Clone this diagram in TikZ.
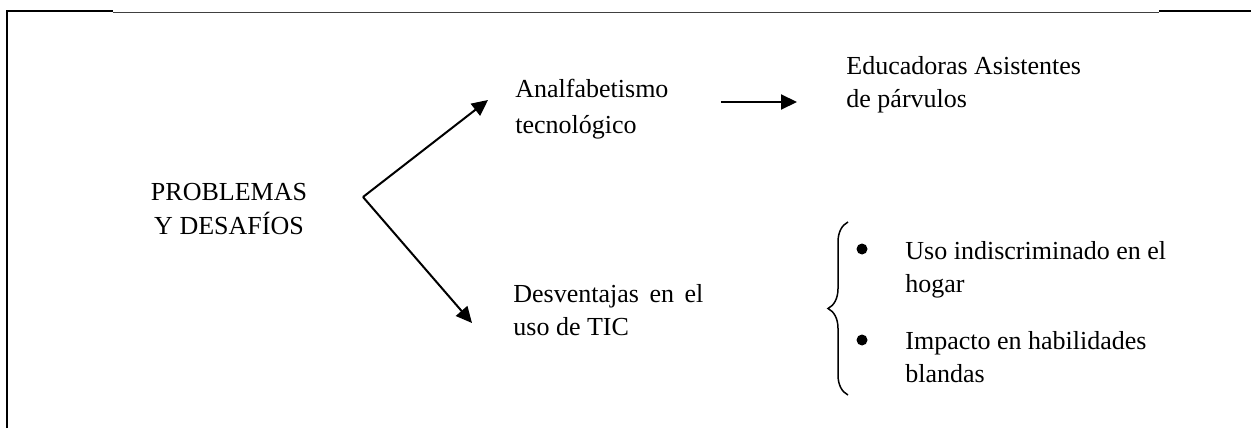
\documentclass[tikz,border=0pt]{standalone}
\usepackage{fontspec}
\setmainfont{Liberation Serif}
\usetikzlibrary{arrows.meta}
\usetikzlibrary{decorations.pathreplacing}
\usetikzlibrary{positioning}

\tikzset{
    txt/.style={inner sep=0pt,anchor=north west,align=left,font=\fontsize{13}{16.5}\selectfont},
    arr/.style={line width=1pt,-{Triangle[length=8pt,width=7.5pt]}},
    bul/.style={circle,fill=black,inner sep=0pt,minimum size=5.5pt}
}

\begin{document}
\begin{tikzpicture}[x=0.5pt,y=-0.5pt,every node/.style={black}]
    \useasboundingbox (0,0) rectangle (1251,428);

    % frame
    \draw[line width=1pt] (7,428) -- (7,11) -- (113,11);
    \draw[line width=0.5pt,black!75] (113,12) -- (1159,12);
    \draw[line width=1pt] (1159,11) -- (1251,11);

    \node[txt,anchor=north,align=center,font=\fontsize{13}{17}\selectfont] (prob) at (229,183) {PROBLEMAS\\Y DESAF\'IOS};
    \coordinate (split) at (363,197);

    \node[txt,font=\fontsize{13}{18}\selectfont] (analf) at (515,79) {Analfabetismo\\tecnol\'ogico};
    \node[txt,text width=95pt,align=justify] (desv) at (513,284) {Desventajas en el uso de TIC};
    \node[txt] (educ) at (846,56) {Educadoras Asistentes\\de p\'arvulos};

    \node[bul] (b1) at (862,249) {};
    \node[txt] (uso) at (905,241) {Uso indiscriminado en el\\hogar};
    \node[bul] (b2) at (862,340) {};
    \node[txt] (imp) at (905,331) {Impacto en habilidades\\blandas};

    \draw[arr] (split) -- ([xshift=-13.5pt,yshift=-10.5pt]analf.north west);
    \draw[arr] (split) -- ([xshift=-20.5pt,yshift=-19.5pt]desv.north west);
    \draw[arr] ([xshift=26pt,yshift=-11.5pt]analf.north east) -- ([xshift=-24.5pt,yshift=-23pt]educ.north west);

    \draw[line width=0.75pt,decorate,decoration={brace,amplitude=10pt}] (848,395) -- (848,222);
\end{tikzpicture}
\end{document}
